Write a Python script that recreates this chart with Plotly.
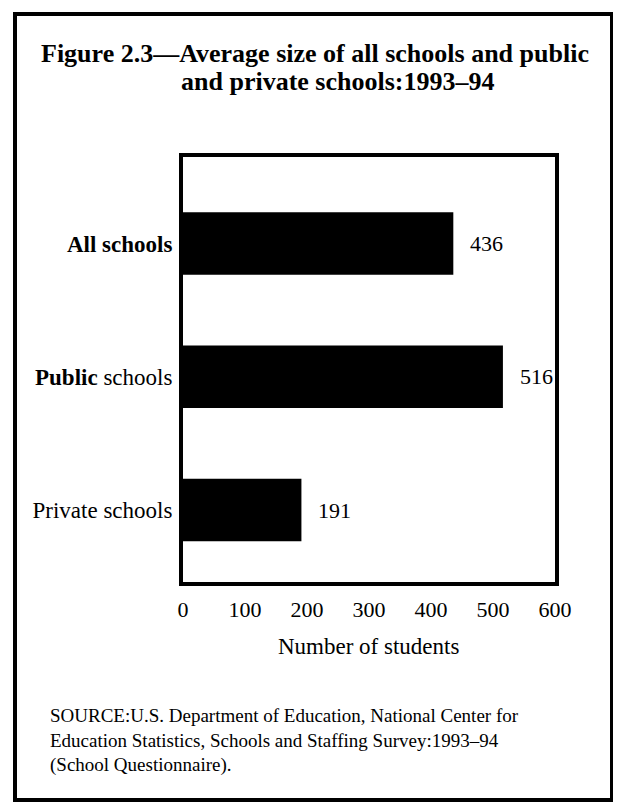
import plotly.graph_objects as go

# ---- data ----
categories = ["All schools", "Public schools", "Private schools"]
category_labels = ["<b>All schools</b>", "<b>Public</b> schools", "Private schools"]
values = [436, 516, 191]
x_ticks = [0, 100, 200, 300, 400, 500, 600]
title_line1 = "<b>Figure 2.3—Average size of all schools and public</b>"
title_line2 = "<b>and private schools:1993–94</b>"
x_title = "Number of students"
source_lines = [
    "SOURCE:U.S. Department of Education, National Center for",
    "Education Statistics, Schools and Staffing Survey:1993–94",
    "(School Questionnaire).",
]

W, H = 621, 811          # browser window
OFF = 8                  # default body margin of the html page
FW, FH = W - 2 * OFF, H - 2 * OFF   # figure size
L, R, T, B = 183, 555, 157, 582     # plot area in page pixels
SERIF = "Liberation Serif, Times New Roman, serif"


def px(x):
    return (x - L) / (R - L)


def py(y):
    return (B - y) / (B - T)


ypos = list(range(len(categories)))

fig = go.Figure(
    go.Bar(
        x=values,
        y=ypos,
        orientation="h",
        marker=dict(color="black", line=dict(width=0)),
        width=0.47,
        hoverinfo="x+y",
    )
)

for v, yv in zip(values, ypos):
    fig.add_annotation(
        x=v, y=yv, xref="x", yref="y", text=str(v), showarrow=False,
        xanchor="left", xshift=15, font=dict(family=SERIF, size=22, color="black"),
    )

fig.update_xaxes(
    range=[0, 600], tickvals=x_ticks, ticktext=[str(t) for t in x_ticks],
    showline=True, linecolor="black", linewidth=4, mirror=True,
    showgrid=False, zeroline=False,
    ticks="outside", ticklen=5, tickcolor="rgba(0,0,0,0)",
    tickfont=dict(family=SERIF, size=22, color="black"),
)
fig.update_yaxes(
    range=[2.54, -0.649], tickvals=ypos, ticktext=category_labels,
    showline=True, linecolor="black", linewidth=4, mirror=True,
    showgrid=False, zeroline=False,
    ticks="outside", ticklen=2, tickcolor="rgba(0,0,0,0)",
    tickfont=dict(family=SERIF, size=23, color="black"),
)

# title
fig.add_annotation(x=px(39), y=py(53), xref="paper", yref="paper", text=title_line1,
                   showarrow=False, xanchor="left", yanchor="middle",
                   font=dict(family=SERIF, size=26, color="black"))
fig.add_annotation(x=px(179), y=py(81), xref="paper", yref="paper", text=title_line2,
                   showarrow=False, xanchor="left", yanchor="middle",
                   font=dict(family=SERIF, size=26, color="black"))

# x-axis title
fig.add_annotation(x=px(368), y=py(646), xref="paper", yref="paper", text=x_title,
                   showarrow=False, xanchor="center", yanchor="middle",
                   font=dict(family=SERIF, size=23, color="black"))

# source (one block, left aligned)
fig.add_annotation(x=px(48), y=py(740), xref="paper", yref="paper",
                   text="<br>".join(source_lines),
                   showarrow=False, xanchor="left", yanchor="middle", align="left",
                   font=dict(family=SERIF, size=19, color="black"))

# outer border
fig.add_shape(type="rect", xref="paper", yref="paper",
              x0=px(15), x1=px(612), y0=py(800), y1=py(14),
              line=dict(color="black", width=4), fillcolor="rgba(0,0,0,0)")

fig.update_layout(
    width=FW, height=FH,
    margin=dict(l=L - OFF, r=OFF + FW - R, t=T - OFF, b=OFF + FH - B, autoexpand=False),
    paper_bgcolor="white", plot_bgcolor="white",
    showlegend=False,
)

fig.write_html("out.html")
